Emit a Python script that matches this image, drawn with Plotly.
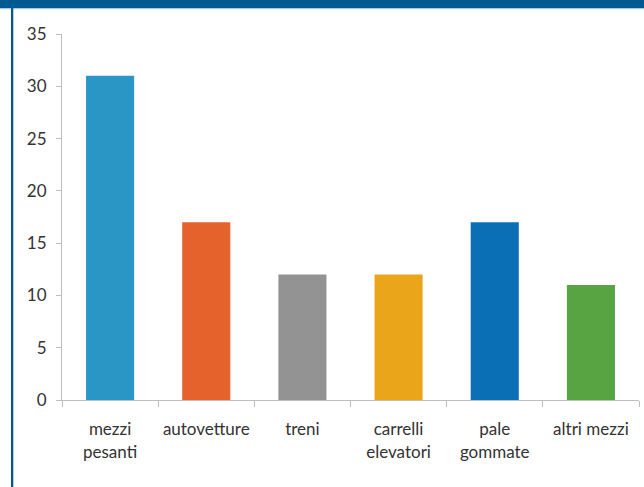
import plotly.graph_objects as go

categories = ["mezzi<br>pesanti", "autovetture", "treni", "carrelli<br>elevatori", "pale<br>gommate", "altri mezzi"]
values = [31, 17, 12, 12, 17, 11]
colors = ["#2a96c5", "#e5622c", "#939393", "#eba51a", "#0b6fb6", "#58a342"]
y_ticks = [0, 5, 10, 15, 20, 25, 30, 35]

W, H = 644, 487
L, R, T, B = 62, 5, 34, 87
pw, ph = W - L - R, H - T - B

def px_x(p):
    return (p - L) / pw

def px_y(p):
    return 1 - (p - T) / ph

fig = go.Figure(go.Bar(x=categories, y=values, marker=dict(color=colors, line=dict(width=0)), width=0.5,
                       hoverinfo="skip"))

fig.update_layout(
    width=W, height=H,
    margin=dict(l=L, r=R, t=T, b=B),
    paper_bgcolor="white", plot_bgcolor="white",
    font=dict(family="Lato", size=17, color="#333333"),
    showlegend=False,
    bargap=0.5,
    xaxis=dict(
        type="category", tickson="boundaries", ticks="outside", ticklen=6,
        tickcolor="#bfbfbf", showline=True, linecolor="#bfbfbf", linewidth=1,
        showgrid=False, zeroline=False, tickfont=dict(size=17, color="#333333"),
        ticklabelstandoff=14,
    ),
    yaxis=dict(
        range=[0, 35], tickvals=y_ticks, ticks="outside", ticklen=5,
        tickcolor="#bfbfbf", showline=True, linecolor="#bfbfbf", linewidth=1,
        showgrid=False, zeroline=False, tickfont=dict(size=17, color="#333333"),
        ticklabelstandoff=6,
    ),
    shapes=[
        dict(type="rect", xref="paper", yref="paper", x0=px_x(0), x1=px_x(W), y0=px_y(8), y1=px_y(0),
             fillcolor="#005a92", line=dict(width=0), layer="above"),
        dict(type="rect", xref="paper", yref="paper", x0=px_x(0), x1=px_x(W), y0=px_y(9.3), y1=px_y(8),
             fillcolor="#a9cbe3", line=dict(width=0), layer="above"),
        dict(type="rect", xref="paper", yref="paper", x0=px_x(11), x1=px_x(13.3), y0=px_y(H), y1=px_y(8),
             fillcolor="#005a92", line=dict(width=0), layer="above"),
    ],
)

fig.write_html("out.html", config={"displayModeBar": False},
               post_script="document.body.style.margin='0';document.body.style.padding='0';")
